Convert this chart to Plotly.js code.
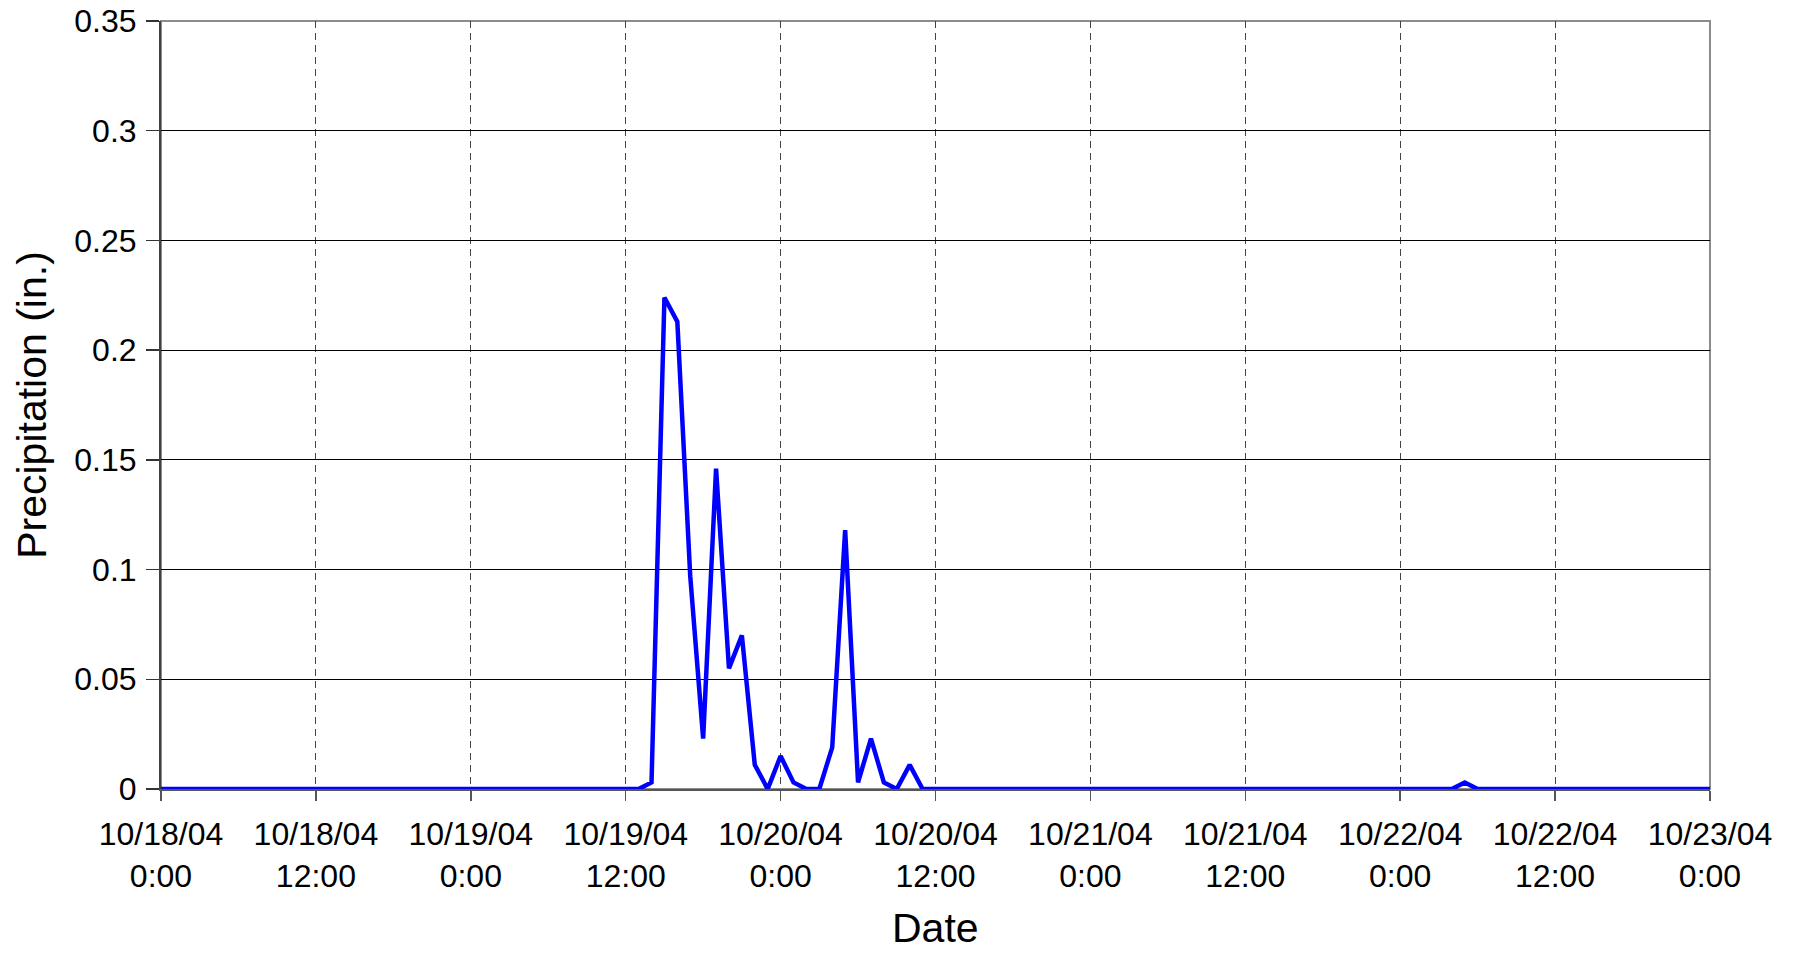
<!DOCTYPE html>
<html>
<head>
<meta charset="utf-8">
<script src="https://cdn.plot.ly/plotly-3.0.1.min.js"></script>
<style>
  html, body { margin: 0; padding: 0; background: #ffffff; }
  #chart { width: 1794px; height: 956px; }
</style>
</head>
<body>
<div id="chart"></div>
<script>
// Hourly series starting 10/18/04 0:00 (one value per hour, 121 values through 10/23/04 0:00)
var seriesStart = '2004-10-18 00:00';
var stepMs = 3600000;
var precipitation = [
  0, 0, 0, 0, 0, 0, 0, 0, 0, 0, 0, 0,           // 10/18 0:00 - 11:00
  0, 0, 0, 0, 0, 0, 0, 0, 0, 0, 0, 0,           // 10/18 12:00 - 23:00
  0, 0, 0, 0, 0, 0, 0, 0, 0, 0, 0, 0,           // 10/19 0:00 - 11:00
  0, 0, 0.003, 0.224, 0.213, 0.097, 0.023, 0.146, 0.055, 0.070, 0.011, 0,   // 10/19 12:00 - 23:00
  0.015, 0.003, 0, 0, 0.019, 0.118, 0.003, 0.023, 0.003, 0, 0.011, 0,      // 10/20 0:00 - 11:00
  0, 0, 0, 0, 0, 0, 0, 0, 0, 0, 0, 0,           // 10/20 12:00 - 23:00
  0, 0, 0, 0, 0, 0, 0, 0, 0, 0, 0, 0,           // 10/21 0:00 - 11:00
  0, 0, 0, 0, 0, 0, 0, 0, 0, 0, 0, 0,           // 10/21 12:00 - 23:00
  0, 0, 0, 0, 0, 0.003, 0, 0, 0, 0, 0, 0,       // 10/22 0:00 - 11:00
  0, 0, 0, 0, 0, 0, 0, 0, 0, 0, 0, 0,           // 10/22 12:00 - 23:00
  0                                              // 10/23 0:00
];
var xRange = ['2004-10-18 00:00', '2004-10-23 00:00'];
var yTicks = [0, 0.05, 0.1, 0.15, 0.2, 0.25, 0.3, 0.35];
var yTickLabels = ['0', '0.05', '0.1', '0.15', '0.2', '0.25', '0.3', '0.35'];
var xTitle = 'Date';
var yTitle = 'Precipitation (in.)';

var font = 'Liberation Sans, Arial, sans-serif';

var trace = {
  type: 'scatter',
  mode: 'lines',
  x0: seriesStart,
  dx: stepMs,
  y: precipitation,
  line: { color: '#0000ff', width: 4.5 },
  cliponaxis: false,
  hoverinfo: 'x+y'
};

var layout = {
  width: 1794,
  height: 956,
  paper_bgcolor: '#ffffff',
  plot_bgcolor: '#ffffff',
  margin: { l: 161, r: 84, t: 21, b: 167 },
  showlegend: false,
  font: { family: font, color: '#000000', size: 32 },
  xaxis: {
    type: 'date',
    range: xRange,
    tick0: '2004-10-18 00:00',
    dtick: 12 * 3600000,
    tickformat: '%m/%d/%y<br>%-H:%M',
    tickfont: { family: font, size: 32, color: '#000000' },
    ticks: 'outside',
    ticklen: 10,
    tickwidth: 1.5,
    tickcolor: '#555555',
    showgrid: true,
    gridcolor: '#444444',
    gridwidth: 1,
    griddash: '7px,5px',
    showline: true,
    linecolor: '#555555',
    linewidth: 2,
    zeroline: false,
    ticklabelstandoff: 6
  },
  yaxis: {
    range: [0, 0.35],
    tickmode: 'array',
    tickvals: yTicks,
    ticktext: yTickLabels,
    tickfont: { family: font, size: 32, color: '#000000' },
    ticks: 'outside',
    ticklen: 13,
    tickwidth: 1.5,
    tickcolor: '#333333',
    showgrid: true,
    gridcolor: '#000000',
    gridwidth: 1,
    showline: true,
    linecolor: '#404040',
    linewidth: 2,
    zeroline: false,
    ticklabelstandoff: 3,
    title: { text: yTitle, font: { family: font, size: 41, color: '#000000' }, standoff: 15 }
  },
  annotations: [
    {
      text: xTitle, xref: 'paper', yref: 'paper', x: 0.5, y: -0.181,
      xanchor: 'center', yanchor: 'middle', showarrow: false,
      font: { family: font, size: 41, color: '#000000' }
    }
  ],
  shapes: [
    {
      type: 'rect', xref: 'paper', yref: 'paper', x0: 0, x1: 1, y0: 0, y1: 1,
      line: { color: '#8c8c8c', width: 2 }, fillcolor: 'rgba(0,0,0,0)', layer: 'below'
    }
  ]
};

Plotly.newPlot('chart', [trace], layout, { displayModeBar: false, staticPlot: true });
</script>
</body>
</html>
